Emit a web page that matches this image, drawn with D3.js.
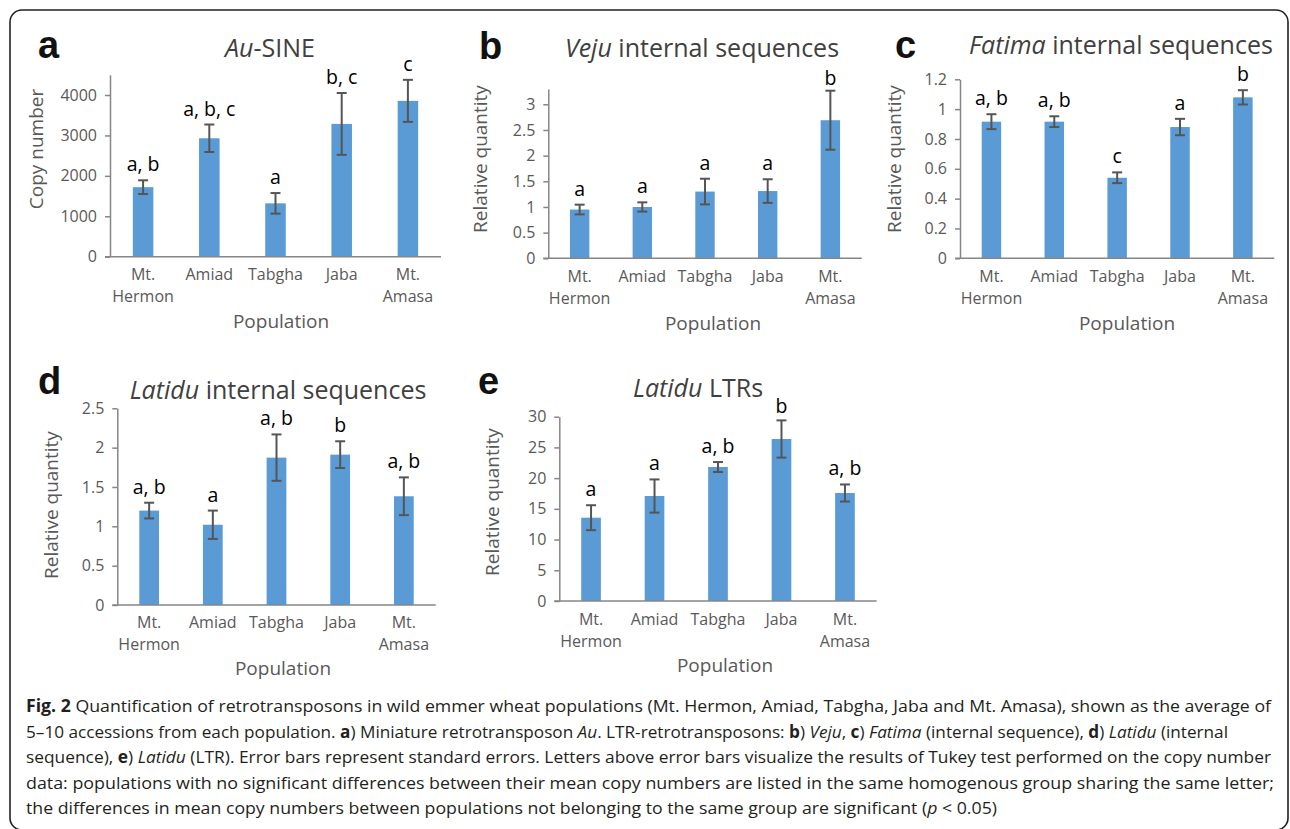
<!DOCTYPE html>
<html>
<head>
<meta charset="utf-8">
<script src="https://cdn.jsdelivr.net/npm/d3@7"></script>
<style>
  html, body { margin: 0; padding: 0; background: #fff; }
  svg text { font-family: "Open Sans", sans-serif; }
</style>
</head>
<body>
<svg id="fig" width="1290" height="829"></svg>
<script>
const BARCOLOUR   = '#5B9BD5';
const AXISCOLOUR  = '#868686';
const ERRCOLOUR   = '#555555';
const TEXTGREY    = '#595959';
const LABELGAP    = 9;

// populations, same order in every panel
var populations = ["Mt. Hermon", "Amiad", "Tabgha", "Jaba", "Mt. Amasa"];

// a) Au-SINE copy number
var auSineMeans  = [1720, 2930, 1320, 3285, 3855];
var auSineErrors = [170, 340, 255, 765, 520];
var auSineGroups = ["a, b", "a, b, c", "a", "b, c", "c"];
var auSineTicks  = [0, 1000, 2000, 3000, 4000];

// b) Veju internal sequences
var vejuMeans  = [0.95, 1.00, 1.30, 1.31, 2.69];
var vejuErrors = [0.095, 0.09, 0.25, 0.23, 0.575];
var vejuGroups = ["a", "a", "a", "a", "b"];
var vejuTicks  = [0, 0.5, 1, 1.5, 2, 2.5, 3];

// c) Fatima internal sequences
var fatimaMeans  = [0.916, 0.916, 0.54, 0.88, 1.079];
var fatimaErrors = [0.05, 0.036, 0.036, 0.055, 0.048];
var fatimaGroups = ["a, b", "a, b", "c", "a", "b"];
var fatimaTicks  = [0, 0.2, 0.4, 0.6, 0.8, 1, 1.2];

// d) Latidu internal sequences
var latiduIntMeans  = [1.20, 1.02, 1.873, 1.911, 1.382];
var latiduIntErrors = [0.10, 0.18, 0.295, 0.17, 0.24];
var latiduIntGroups = ["a, b", "a", "a, b", "b", "a, b"];
var latiduIntTicks  = [0, 0.5, 1, 1.5, 2, 2.5];

// e) Latidu LTRs
var latiduLtrMeans  = [13.56, 17.09, 21.81, 26.37, 17.58];
var latiduLtrErrors = [2.03, 2.7, 0.81, 3.03, 1.39];
var latiduLtrGroups = ["a", "a", "a, b", "b", "a, b"];
var latiduLtrTicks  = [0, 5, 10, 15, 20, 25, 30];

// caption, one entry per printed line, parts are [text, style]
var captionLines = [
    [["Fig. 2", "b"], [" Quantification of retrotransposons in wild emmer wheat populations (Mt. Hermon, Amiad, Tabgha, Jaba and Mt. Amasa), shown as the average of", ""]],
    [["5–10 accessions from each population. ", ""], ["a", "b"], [") Miniature retrotransposon ", ""], ["Au", "i"], [". LTR-retrotransposons: ", ""], ["b", "b"], [") ", ""], ["Veju", "i"], [", ", ""], ["c", "b"], [") ", ""], ["Fatima", "i"], [" (internal sequence), ", ""], ["d", "b"], [") ", ""], ["Latidu", "i"], [" (internal", ""]],
    [["sequence), ", ""], ["e", "b"], [") ", ""], ["Latidu", "i"], [" (LTR). Error bars represent standard errors. Letters above error bars visualize the results of Tukey test performed on the copy number", ""]],
    [["data: populations with no significant differences between their mean copy numbers are listed in the same homogenous group sharing the same letter;", ""]],
    [["the differences in mean copy numbers between populations not belonging to the same group are significant (", ""], ["p", "i"], [" < 0.05)", ""]]
];
var captionWidths = [1245, 1202, 1245, 1248, 971];

var panels = [
    { letter: "a", title: [["Au", true], ["-SINE", false]], yLabel: "Copy number",
      means: auSineMeans, errors: auSineErrors, groups: auSineGroups, ticks: auSineTicks, yMax: 4500,
      x0: 110, x1: 441, yBase: 256.7, yTop: 74.8,
      letterX: 38, letterY: 58, titleX: 270, titleY: 57, yTitleX: 43, yTitleY: 149,
      catY: 280, popX: 281, popY: 328 },
    { letter: "b", title: [["Veju", true], [" internal sequences", false]], yLabel: "Relative quantity",
      means: vejuMeans, errors: vejuErrors, groups: vejuGroups, ticks: vejuTicks, yMax: 3.3,
      x0: 548.3, x1: 861.7, yBase: 258.3, yTop: 88.9,
      letterX: 479, letterY: 59, titleX: 702, titleY: 57, yTitleX: 487, yTitleY: 159,
      catY: 282, popX: 713, popY: 330 },
    { letter: "c", title: [["Fatima", true], [" internal sequences", false]], yLabel: "Relative quantity",
      means: fatimaMeans, errors: fatimaErrors, groups: fatimaGroups, ticks: fatimaTicks, yMax: 1.2,
      x0: 960, x1: 1274.3, yBase: 258.3, yTop: 79.3,
      letterX: 895, letterY: 58, titleX: 1121, titleY: 54, yTitleX: 901, yTitleY: 159,
      catY: 282, popX: 1127, popY: 330 },
    { letter: "d", title: [["Latidu", true], [" internal sequences", false]], yLabel: "Relative quantity",
      means: latiduIntMeans, errors: latiduIntErrors, groups: latiduIntGroups, ticks: latiduIntTicks, yMax: 2.5,
      x0: 117.3, x1: 435.7, yBase: 605, yTop: 408.3,
      letterX: 38, letterY: 394, titleX: 278, titleY: 399, yTitleX: 58, yTitleY: 505,
      catY: 628, popX: 283, popY: 675 },
    { letter: "e", title: [["Latidu", true], [" LTRs", false]], yLabel: "Relative quantity",
      means: latiduLtrMeans, errors: latiduLtrErrors, groups: latiduLtrGroups, ticks: latiduLtrTicks, yMax: 30,
      x0: 559.3, x1: 876.7, yBase: 601, yTop: 416.7,
      letterX: 478, letterY: 394, titleX: 698, titleY: 397, yTitleX: 499, yTitleY: 502,
      catY: 625, popX: 725, popY: 672 }
];


document.addEventListener('DOMContentLoaded', function(){
    var svg = d3.select("#fig");

    svg.append("rect")
        .attr("x", 10).attr("y", 10)
        .attr("width", 1278).attr("height", 820)
        .attr("rx", 12).attr("ry", 12)
        .attr("fill", "#fff")
        .attr("stroke", "#222")
        .attr("stroke-width", 1.6);

    panels.forEach(function(p){ drawPanel(svg, p); });
    drawCaption(svg);
}, false);


function drawPanel(svg, p){
    var g = svg.append("g").attr("class", "panel-" + p.letter);

    var x = d3.scaleBand()
        .domain(populations)
        .range([p.x0, p.x1])
        .paddingInner(0.69)
        .paddingOuter(0.345);

    var y = d3.scaleLinear()
        .domain([0, p.yMax])
        .range([p.yBase, p.yTop]);

    // y axis
    var yAxis = d3.axisLeft(y)
        .tickValues(p.ticks)
        .tickSize(5)
        .tickSizeOuter(0)
        .tickFormat(d3.format("~g"));

    var ya = g.append("g")
        .attr("transform", "translate(" + p.x0 + ",0)")
        .call(yAxis);
    ya.select(".domain").attr("stroke", AXISCOLOUR).attr("stroke-width", 1.5);
    ya.selectAll(".tick line").attr("stroke", AXISCOLOUR).attr("stroke-width", 1.5);
    ya.selectAll(".tick text")
        .attr("x", -13)
        .attr("fill", TEXTGREY)
        .style("font-size", "16px")
        .style("font-family", "'Open Sans', sans-serif");

    // bars
    g.selectAll(".bar")
        .data(p.means)
        .enter().append("rect")
        .attr("class", "bar")
        .attr("x", function(d,i){ return x(populations[i]); })
        .attr("width", x.bandwidth())
        .attr("y", function(d){ return y(d); })
        .attr("height", function(d){ return y(0) - y(d); })
        .attr("fill", BARCOLOUR);

    // x axis line, drawn over the bars
    var xAxis = d3.axisBottom(x).tickSize(0).tickFormat("");
    var xa = g.append("g")
        .attr("transform", "translate(0," + p.yBase + ")")
        .call(xAxis);
    xa.select(".domain")
        .attr("d", "M" + (p.x0 - 5) + ",0H" + p.x1)
        .attr("stroke", AXISCOLOUR).attr("stroke-width", 1.5);

    // category labels, "Mt." on its own line
    populations.forEach(function(name, i){
        var lines = name.indexOf("Mt. ") === 0 ? ["Mt.", name.slice(4)] : [name];
        var t = g.append("text")
            .attr("text-anchor", "middle")
            .attr("fill", TEXTGREY)
            .style("font-size", "16px");
        lines.forEach(function(l, k){
            t.append("tspan")
                .attr("x", x(name) + x.bandwidth() / 2)
                .attr("y", p.catY + k * 22)
                .text(l);
        });
    });

    // error bars
    var cap = 5;
    p.means.forEach(function(m, i){
        var cx = x(populations[i]) + x.bandwidth() / 2;
        var hi = y(m + p.errors[i]), lo = y(m - p.errors[i]);
        var e = g.append("g").attr("stroke", ERRCOLOUR).attr("stroke-width", 2);
        e.append("line").attr("x1", cx).attr("x2", cx).attr("y1", hi).attr("y2", lo);
        e.append("line").attr("x1", cx - cap).attr("x2", cx + cap).attr("y1", hi).attr("y2", hi);
        e.append("line").attr("x1", cx - cap).attr("x2", cx + cap).attr("y1", lo).attr("y2", lo);
    });

    // Tukey group letters, kept just under the plot top like Excel does
    g.selectAll(".grp")
        .data(p.groups)
        .enter().append("text")
        .attr("class", "grp")
        .attr("text-anchor", "middle")
        .attr("x", function(d,i){ return x(populations[i]) + x.bandwidth() / 2; })
        .attr("y", function(d,i){
            return Math.max(y(p.means[i] + p.errors[i]) - LABELGAP, p.yTop - 4);
        })
        .attr("fill", "#000")
        .style("font-size", "19.5px")
        .text(function(d){ return d; });

    // titles
    var tt = g.append("text")
        .attr("x", p.titleX).attr("y", p.titleY)
        .attr("text-anchor", "middle")
        .attr("fill", "#404040")
        .style("font-size", "25px");
    p.title.forEach(function(part){
        tt.append("tspan")
            .style("font-style", part[1] ? "italic" : "normal")
            .text(part[0]);
    });

    g.append("text")
        .attr("x", p.letterX).attr("y", p.letterY)
        .attr("fill", "#111")
        .style("font-family", "'Liberation Sans', Arial, sans-serif")
        .style("font-weight", "bold")
        .style("font-size", "38px")
        .text(p.letter);

    g.append("text")
        .attr("transform", "translate(" + p.yTitleX + "," + p.yTitleY + ") rotate(-90)")
        .attr("text-anchor", "middle")
        .attr("fill", TEXTGREY)
        .style("font-size", "19px")
        .text(p.yLabel);

    g.append("text")
        .attr("x", p.popX).attr("y", p.popY)
        .attr("text-anchor", "middle")
        .attr("fill", TEXTGREY)
        .style("font-size", "19px")
        .text("Population");
}

function drawCaption(svg){
    var g = svg.append("g").attr("class", "caption");
    captionLines.forEach(function(parts, i){
        var t = g.append("text")
            .attr("x", 26)
            .attr("y", 712 + i * 25.5)
            .attr("fill", "#231f20")
            .attr("textLength", captionWidths[i])
            .attr("lengthAdjust", "spacingAndGlyphs")
            .style("font-size", "17px");
        parts.forEach(function(part){
            t.append("tspan")
                .style("font-weight", part[1] === "b" ? "bold" : "normal")
                .style("font-style", part[1] === "i" ? "italic" : "normal")
                .text(part[0]);
        });
    });
}
</script>
</body>
</html>
